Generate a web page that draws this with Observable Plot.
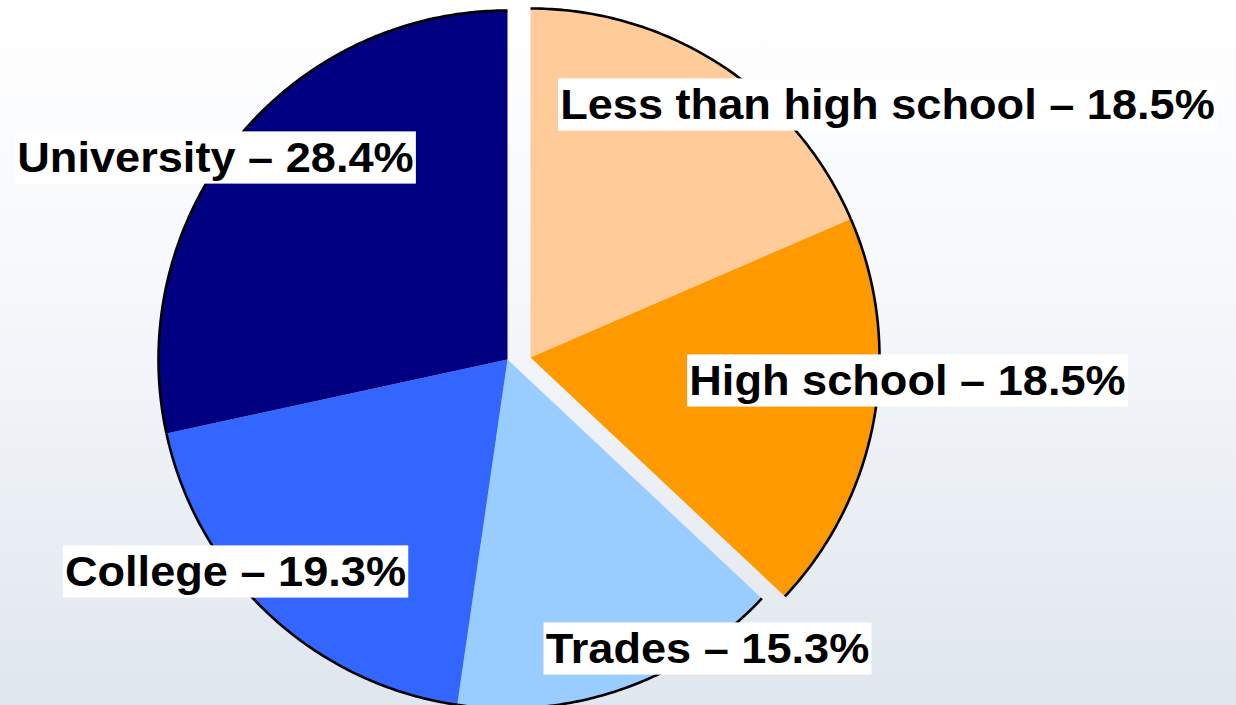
<!DOCTYPE html>
<html>
<head>
<meta charset="utf-8">
<script src="https://cdn.jsdelivr.net/npm/d3@7"></script>
<script src="https://cdn.jsdelivr.net/npm/@observablehq/plot@0.6"></script>
<style>
  html, body { margin: 0; padding: 0; }
  body { width: 1236px; height: 705px; overflow: hidden;
         background: linear-gradient(180deg, #ffffff 0%, #f6f8fb 40%, #e9eef4 75%, #e0e6ee 100%); }
  #chart svg { display: block; background: transparent; }
</style>
</head>
<body>
<div id="chart"></div>
<script>
// ---- data ----
const categories = ["Less than high school", "High school", "Trades", "College", "University"];
const shares = [18.5, 18.5, 15.3, 19.3, 28.4];
const labels = ["Less than high school – 18.5%", "High school – 18.5%", "Trades – 15.3%", "College – 19.3%", "University – 28.4%"];
const colors = ["#FFCC99", "#FF9900", "#99CCFF", "#3366FF", "#000080"];
const exploded = [true, true, false, false, false];

// ---- layout (pixels) ----
const W = 1236, H = 705;
const cx = 507, cy = 359, R = 349;           // pie centre / radius in px
const explodeOffset = [23, -2];               // px shift of exploded group
const labelPos = [[887, 105], [907, 381], [707, 649], [235, 572], [215, 158]]; // px centres
const stretchX = 1.075;

// units: radius = 1, centre = (0,0), y up
const toX = px => (px - cx) / R;
const toY = py => (cy - py) / R;

const total = d3.sum(shares);
const slices = [];
const arcs = [];
let acc = 0;
categories.forEach((c, i) => {
  const a0 = acc / total * 2 * Math.PI;
  acc += shares[i];
  const a1 = acc / total * 2 * Math.PI;
  const ox = exploded[i] ? explodeOffset[0] / R : 0;
  const oy = exploded[i] ? -explodeOffset[1] / R : 0;
  const n = Math.max(8, Math.ceil((a1 - a0) / 0.01));
  slices.push({cat: c, x: ox, y: oy});
  for (let k = 0; k <= n; k++) {
    const a = a0 + (a1 - a0) * k / n;
    const p = {cat: c, x: ox + Math.sin(a), y: oy + Math.cos(a)};
    slices.push(p);
    arcs.push(p);
  }
  slices.push({cat: c, x: ox, y: oy});
});

const labelData = labels.map((t, i) => ({t, x: toX(labelPos[i][0]), y: toY(labelPos[i][1])}));

const chart = Plot.plot({
  width: W, height: H,
  margin: 0,
  x: {domain: [toX(0), toX(W)], axis: null},
  y: {domain: [toY(H), toY(0)], axis: null},
  color: {domain: categories, range: colors},
  style: {background: "transparent", overflow: "visible"},
  marks: [
    Plot.line(slices, {x: "x", y: "y", z: "cat", fill: "cat", stroke: "none", curve: "linear"}),
    Plot.line(arcs, {x: "x", y: "y", z: "cat", stroke: "#000", strokeWidth: 2.6, strokeLinecap: "butt", curve: "linear"}),
    Plot.text(labelData, {x: "x", y: "y", text: "t", fill: "#000",
      fontSize: 42, fontWeight: "bold", fontFamily: "Liberation Sans, Arial, sans-serif",
      textAnchor: "middle", lineAnchor: "middle"})
  ]
});
document.getElementById("chart").appendChild(chart);

// white boxes behind labels (text slightly stretched horizontally like the original)
d3.select(chart).selectAll('g[aria-label="text"] text').each(function() {
  const tr = (this.getAttribute("transform") || "") + ` scale(${stretchX},1)`;
  this.setAttribute("transform", tr);
  const b = this.getBBox();
  const padX = 2, padY = 3;
  d3.select(this.parentNode).insert("rect", () => this)
    .attr("x", b.x - padX).attr("y", b.y - padY)
    .attr("width", b.width + 2 * padX).attr("height", b.height + 2 * padY)
    .attr("fill", "#fff")
    .attr("transform", tr);
});
</script>
</body>
</html>
